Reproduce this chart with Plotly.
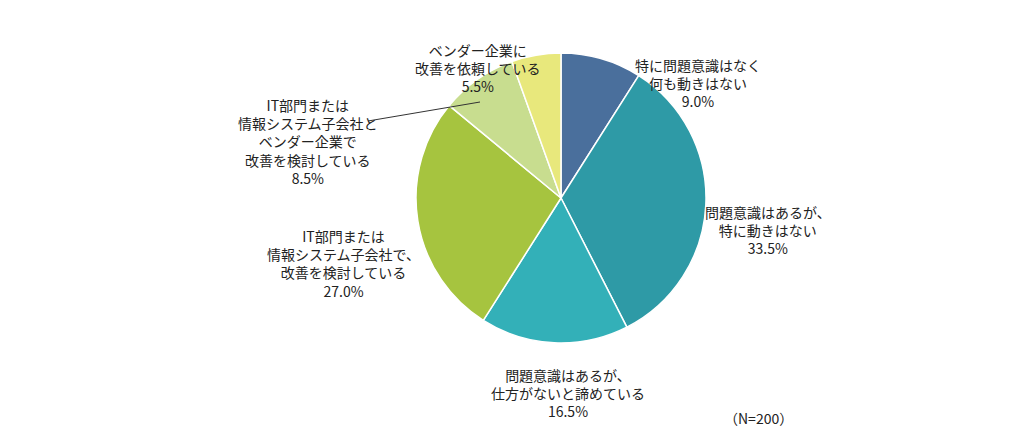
import plotly.graph_objects as go

labels = [
    "特に問題意識はなく<br>何も動きはない",
    "問題意識はあるが、<br>特に動きはない",
    "問題意識はあるが、<br>仕方がないと諦めている",
    "IT部門または<br>情報システム子会社で、<br>改善を検討している",
    "IT部門または<br>情報システム子会社と<br>ベンダー企業で<br>改善を検討している",
    "ベンダー企業に<br>改善を依頼している",
]
values = [9.0, 33.5, 16.5, 27.0, 8.5, 5.5]
colors = ["#4a6f9c", "#2e9aa6", "#33b0b8", "#a6c43f", "#c8dd8f", "#e8e87c"]

W, H = 1030, 441
# label centres in pixels
label_pos = [(690, 75), (760, 222), (560, 385), (335, 255), (300, 133), (470, 60)]

fig = go.Figure(go.Pie(
    values=values, labels=labels, sort=False, direction="clockwise", rotation=0,
    marker=dict(colors=colors, line=dict(color="white", width=1.5)),
    textinfo="none", hoverinfo="label+percent", showlegend=False,
    domain=dict(x=[408 / W, 698 / W], y=[1 - 335 / H, 1 - 45 / H]),
))

for lab, v, (px_, py_) in zip(labels, values, label_pos):
    fig.add_annotation(x=px_ / W, y=1 - py_ / H, xref="paper", yref="paper",
                       xanchor="center", yanchor="middle",
                       text=f"{lab}<br>{v:.1f}%", showarrow=False, align="center",
                       font=dict(size=14, color="#222"))

fig.add_annotation(x=750 / W, y=1 - 410 / H, xref="paper", yref="paper",
                   xanchor="center", yanchor="middle",
                   text="（N=200）", showarrow=False, font=dict(size=14, color="#222"))

fig.add_shape(type="line", xref="paper", yref="paper",
              x0=360 / W, y0=1 - 113 / H, x1=472 / W, y1=1 - 94 / H,
              line=dict(color="#333", width=1))

fig.update_layout(width=W, height=H, margin=dict(l=0, r=0, t=0, b=0),
                  paper_bgcolor="white", font=dict(family="Noto Sans CJK JP"))
fig.write_html("out.html")
